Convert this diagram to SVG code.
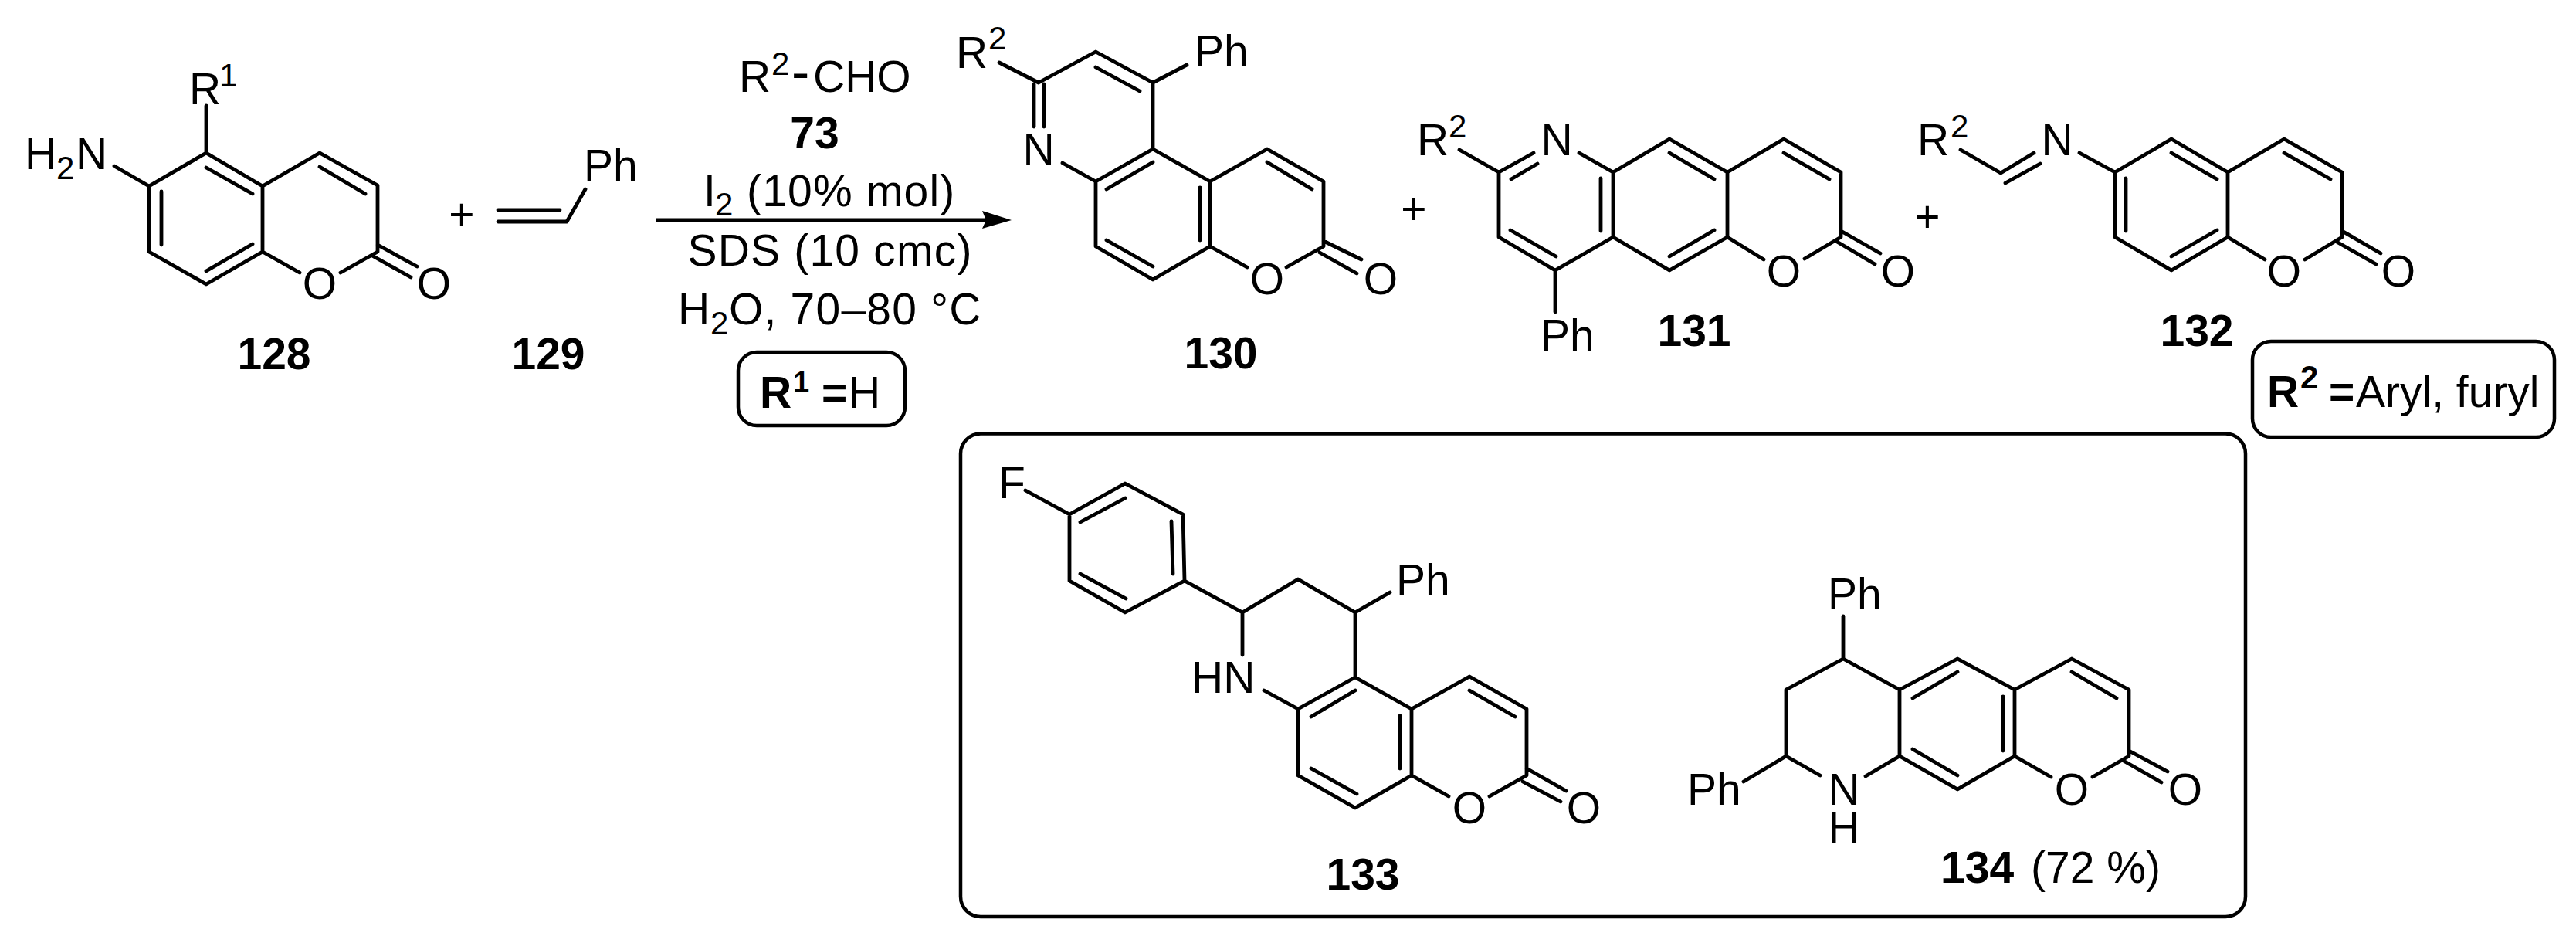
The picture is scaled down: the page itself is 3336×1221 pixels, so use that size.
<svg xmlns="http://www.w3.org/2000/svg" width="3336" height="1221" viewBox="0 0 3336 1221">
<style>
.b{fill:none;stroke:#000;stroke-width:4.8;stroke-linecap:round;stroke-linejoin:round}
.box{fill:none;stroke:#000;stroke-width:4.5}
text{font-family:"Liberation Sans",Arial,sans-serif;font-size:57px;fill:#000}
.bd{font-weight:700}
.s{font-size:42px}
.m{text-anchor:middle}
.w{letter-spacing:1.2px}
</style>
<rect width="3336" height="1221" fill="#fff"/>
<g id="compound-128">
<path class="b" d="M267 137V198L193 241V326L267 368L340 326V241L267 198M340 241L414 198L489 240V326L441 353M340 326L388 353M148 215L193 241M267 217L327 251M209 248V317M267 351L327 316M414 216L473 251M489 317L540 345M482 331L532 359"/>
<text x="32" y="219">H</text><text class="s" x="73" y="232">2</text><text x="98" y="219">N</text>
<text x="245" y="135">R</text><text class="s" x="284" y="112">1</text>
<text class="m" x="414" y="387">O</text><text class="m" x="562" y="387">O</text>
<text class="bd m" x="355" y="478">128</text>
</g>
<g id="plus-1"><text class="m" x="598" y="297">+</text></g>
<g id="compound-129">
<path class="b" d="M645 272H725M645 287H734L758 245"/>
<text x="756" y="234">Ph</text>
<text class="bd m" x="710" y="478">129</text>
</g>
<g id="conditions">
<text x="957" y="119">R</text><text class="s" x="999" y="97">2</text><text x="1025" y="117" style="font-size:70px">-</text><text x="1053" y="119">CHO</text>
<text class="bd m" x="1055" y="192">73</text>
<text x="911" y="267">I</text><text class="s" x="926" y="279">2</text><text class="w" x="967" y="267">(10% mol)</text>
<text class="m w" x="1075" y="344">SDS (10 cmc)</text>
<text x="878" y="420">H</text><text class="s" x="920" y="433">2</text><text class="w" x="944" y="420">O, 70–80 °C</text>
</g>
<g id="connectors">
<line x1="850" y1="285" x2="1280" y2="285" stroke="#000" stroke-width="5"/>
<polygon points="1310,285 1272,273 1277,285 1272,296" fill="#000"/>
</g>
<g id="r1-box">
<rect class="box" x="956" y="456" width="216" height="95" rx="24"/>
<text class="bd" x="984" y="528">R</text><text class="bd" style="font-size:38px" x="1027" y="508">1</text><text class="bd" x="1064" y="528">=</text><text x="1099" y="528">H</text>
</g>
<g id="compound-130">
<path class="b" d="M1339 109V164M1352 109V164M1345 107L1419 67L1493 107V193L1419 235V319L1493 362L1567 319V235L1493 193M1567 235L1641 193L1714 235V319L1666 346M1567 319L1615 346M1376 211L1419 235M1294 81L1345 107M1493 107L1537 84M1419 87L1476 118M1493 210L1433 245M1554 243V311M1433 311L1493 345M1641 210L1699 245M1714 312L1763 336M1709 327L1757 354"/>
<text x="1238" y="88">R</text><text class="s" x="1280" y="64">2</text>
<text x="1547" y="86">Ph</text>
<text class="m" x="1345" y="213">N</text>
<text class="m" x="1641" y="381">O</text><text class="m" x="1788" y="381">O</text>
<text class="bd m" x="1581" y="477">130</text>
</g>
<g id="plus-2"><text class="m" x="1831" y="290">+</text></g>
<g id="compound-131">
<path class="b" d="M1890 194L1941 223V307L2014 350L2089 307V223L2045 198M1941 223L1986 198M1957 232L1991 212M2089 223L2162 180L2237 223V307L2162 350L2089 307M2073 231V299M1956 298L2015 332M2162 198L2220 232M2162 332L2220 298M2237 223L2310 180L2384 223V307L2337 335M2237 307L2284 336M2310 198L2369 232M2384 299L2435 328M2379 313L2428 342M2014 350V404"/>
<text x="1835" y="201">R</text><text class="s" x="1876" y="178">2</text>
<text class="m" x="2016" y="201">N</text>
<text class="m" x="2310" y="371">O</text><text class="m" x="2458" y="371">O</text>
<text x="1995" y="454">Ph</text>
<text class="bd m" x="2194" y="448">131</text>
</g>
<g id="plus-3"><text class="m" x="2496" y="300">+</text></g>
<g id="compound-132">
<path class="b" d="M2539 194L2591 224L2634 198M2597 237L2642 212M2693 198L2739 223V307L2812 350L2885 307V223L2812 180L2739 223M2885 223L2958 180L3033 223V307L2985 336M2885 307L2933 336M2812 198L2871 232M2753 231V299M2812 332L2871 298M2958 198L3018 232M3033 299L3083 328M3026 313L3077 342"/>
<text x="2483" y="201">R</text><text class="s" x="2526" y="178">2</text>
<text class="m" x="2664" y="201">N</text>
<text class="m" x="2958" y="371">O</text><text class="m" x="3106" y="371">O</text>
<text class="bd m" x="2845" y="448">132</text>
</g>
<g id="r2-box">
<rect class="box" x="2917" y="442" width="391" height="124" rx="24"/>
<text class="bd" x="2936" y="527">R</text><text class="bd s" x="2979" y="503">2</text><text class="bd" x="3016" y="527">=</text><text x="3051" y="527">Aryl, furyl</text>
</g>
<g id="products-box">
<rect class="box" x="1244" y="561.5" width="1664" height="625.5" rx="26"/>
</g>
<g id="compound-133">
<path class="b" d="M1328 635L1385 666L1457 626L1532 666L1534 752L1457 793L1385 752V666M1457 645L1399 676M1517 675L1519 743M1399 743L1458 775M1534 752L1609 793L1681 750L1755 793L1800 767M1609 793V848M1637 894L1681 918L1755 877L1828 918L1903 876L1977 918V1004L1929 1031M1755 793V877M1681 918V1004L1755 1046L1828 1004V918M1828 1004L1876 1031M1755 894L1698 928M1813 927V995M1698 995L1757 1028M1903 894L1962 928M1977 995L2028 1024M1972 1012L2021 1038"/>
<text x="1293" y="645">F</text>
<text x="1808" y="771">Ph</text>
<text x="1543" y="897">HN</text>
<text class="m" x="1903" y="1066">O</text><text class="m" x="2051" y="1066">O</text>
<text class="bd m" x="1765" y="1152">133</text>
</g>
<g id="compound-134">
<path class="b" d="M2387 798V853L2313 893V979L2357 1004M2387 853L2460 893V979L2416 1005M2313 979L2258 1012M2460 893L2535 853L2609 893V979L2535 1022L2460 979M2609 893L2683 853L2757 893V979L2710 1006M2609 979L2656 1006M2535 870L2477 904M2594 902V972M2477 970L2535 1004M2683 870L2741 904M2757 972L2807 999M2750 985L2799 1013"/>
<text x="2367" y="789">Ph</text>
<text x="2185" y="1042">Ph</text>
<text class="m" x="2388" y="1042">N</text><text class="m" x="2388" y="1091">H</text>
<text class="m" x="2683" y="1042">O</text><text class="m" x="2830" y="1042">O</text>
<text class="bd" x="2513" y="1143">134</text><text x="2630" y="1143">(72 %)</text>
</g>
</svg>
